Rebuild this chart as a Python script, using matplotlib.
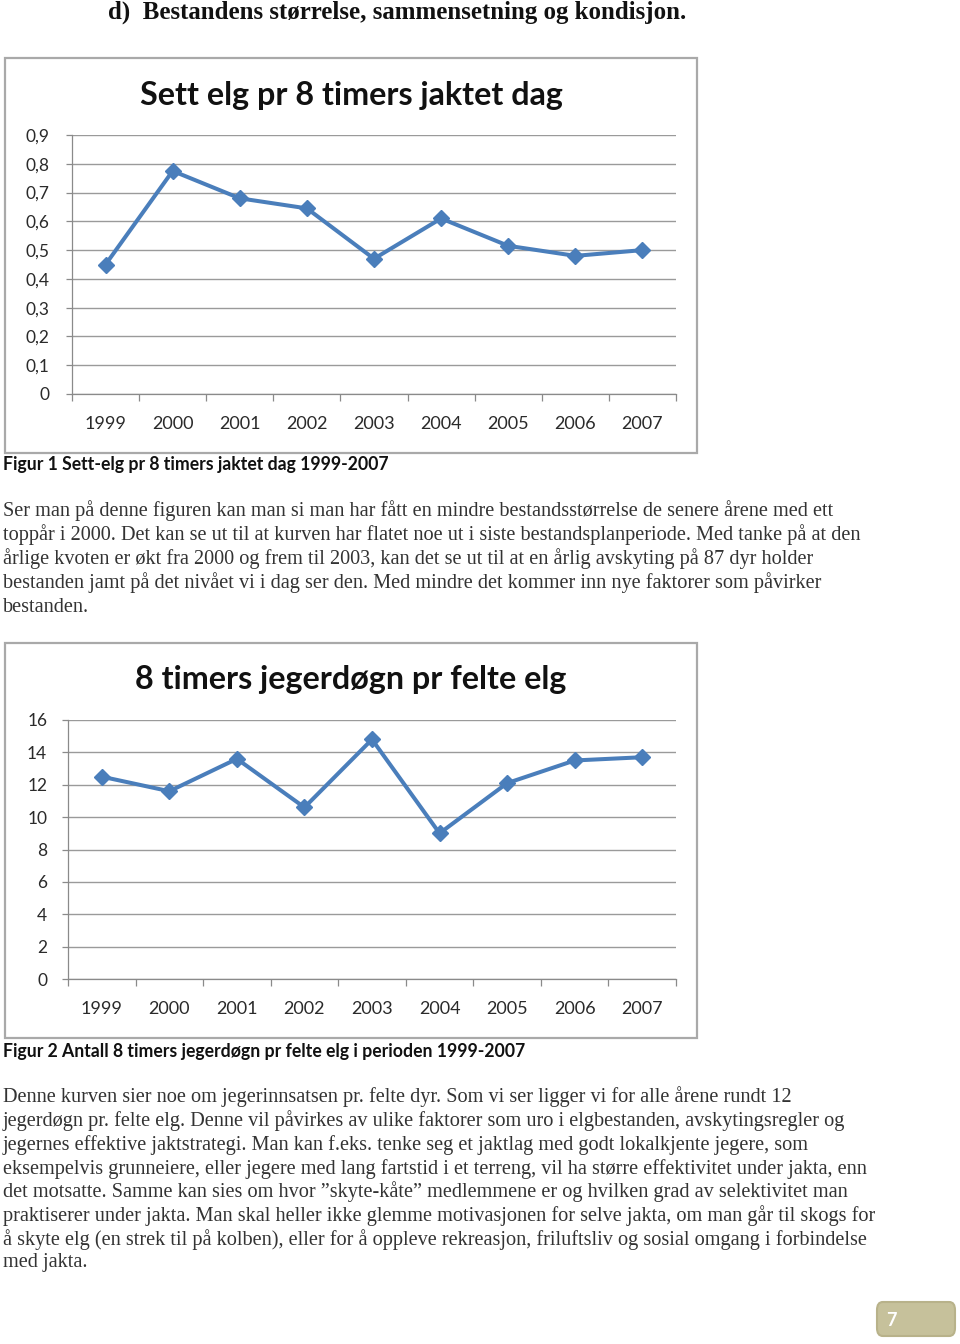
import matplotlib
matplotlib.use("Agg")
import matplotlib.pyplot as plt
from matplotlib.patches import Rectangle, FancyBboxPatch

W, H = 960, 1344

years = ["1999", "2000", "2001", "2002", "2003", "2004", "2005", "2006", "2007"]
sett_elg = [0.45, 0.775, 0.68, 0.645, 0.47, 0.61, 0.515, 0.48, 0.50]
sett_ticks = [0.0, 0.1, 0.2, 0.3, 0.4, 0.5, 0.6, 0.7, 0.8, 0.9]
sett_ticklabels = ["0", "0,1", "0,2", "0,3", "0,4", "0,5", "0,6", "0,7", "0,8", "0,9"]
jegerdogn = [12.5, 11.6, 13.6, 10.6, 14.8, 9.0, 12.1, 13.5, 13.7]
jeger_ticks = [0, 2, 4, 6, 8, 10, 12, 14, 16]
jeger_ticklabels = ["0", "2", "4", "6", "8", "10", "12", "14", "16"]

title1 = "Sett elg pr 8 timers jaktet dag"
title2 = "8 timers jegerdøgn pr felte elg"
caption1 = "Figur 1 Sett-elg pr 8 timers jaktet dag 1999-2007"
caption2 = "Figur 2 Antall 8 timers jegerdøgn pr felte elg i perioden 1999-2007"
heading = "d)  Bestandens størrelse, sammensetning og kondisjon."
para1 = [
    "Ser man på denne figuren kan man si man har fått en mindre bestandsstørrelse de senere årene med ett",
    "toppår i 2000. Det kan se ut til at kurven har flatet noe ut i siste bestandsplanperiode. Med tanke på at den",
    "årlige kvoten er økt fra 2000 og frem til 2003, kan det se ut til at en årlig avskyting på 87 dyr holder",
    "bestanden jamt på det nivået vi i dag ser den. Med mindre det kommer inn nye faktorer som påvirker",
    "bestanden.",
]
para2 = [
    "Denne kurven sier noe om jegerinnsatsen pr. felte dyr. Som vi ser ligger vi for alle årene rundt 12",
    "jegerdøgn pr. felte elg. Denne vil påvirkes av ulike faktorer som uro i elgbestanden, avskytingsregler og",
    "jegernes effektive jaktstrategi. Man kan f.eks. tenke seg et jaktlag med godt lokalkjente jegere, som",
    "eksempelvis grunneiere, eller jegere med lang fartstid i et terreng, vil ha større effektivitet under jakta, enn",
    "det motsatte. Samme kan sies om hvor \u201dskyte-kåte\u201d medlemmene er og hvilken grad av selektivitet man",
    "praktiserer under jakta. Man skal heller ikke glemme motivasjonen for selve jakta, om man går til skogs for",
    "å skyte elg (en strek til på kolben), eller for å oppleve rekreasjon, friluftsliv og sosial omgang i forbindelse",
    "med jakta.",
]
page_no = "7"

fig = plt.figure(figsize=(W / 100, H / 100), dpi=100)
fig.patch.set_facecolor("white")

SANS = ["Lato", "DejaVu Sans"]
SERIF = ["Liberation Serif", "DejaVu Serif"]
BLUE = "#4a7ebb"


def fx(x):
    return x / W


def fy(y):
    return 1 - y / H


def frame(x0, y0, x1, y1):
    fig.add_artist(Rectangle((fx(x0), fy(y1)), (x1 - x0) / W, (y1 - y0) / H,
                             transform=fig.transFigure, fill=False,
                             edgecolor="#a9a9a9", lw=1.6))


def chart(box, plot, values, ticks, ticklabels, title, title_y, ypad):
    frame(*box)
    x0, y0, x1, y1 = plot
    ax = fig.add_axes([fx(x0), fy(y1), (x1 - x0) / W, (y1 - y0) / H])
    n = len(years)
    xs = list(range(n))
    ax.plot(xs, values, color=BLUE, lw=2.9, marker="D", markersize=8,
            markerfacecolor=BLUE, markeredgecolor=BLUE, zorder=3)
    ax.set_xlim(-0.5, n - 0.5)
    ax.set_ylim(ticks[0], ticks[-1])
    ax.set_yticks(ticks)
    ax.set_yticklabels(ticklabels, fontsize=12.5, family=SANS, color="#2a2a2a")
    ax.set_xticks(xs)
    ax.set_xticklabels(years, fontsize=13, family=SANS, color="#2a2a2a")
    ax.set_xticks([i - 0.5 for i in range(n + 1)], minor=True)
    ax.tick_params(axis="x", which="major", length=0, pad=16)
    ax.tick_params(axis="x", which="minor", length=5, width=0.9, color="#8a8a8a", direction="out")
    ax.tick_params(axis="y", length=4, width=0.9, color="#8a8a8a", pad=ypad)
    ax.grid(axis="y", color="#9a9a9a", lw=1.0)
    ax.set_axisbelow(True)
    for s in ["top", "right"]:
        ax.spines[s].set_visible(False)
    for s in ["left", "bottom"]:
        ax.spines[s].set_color("#8a8a8a")
        ax.spines[s].set_linewidth(0.9)
    fig.text(fx((box[0] + box[2]) / 2), fy(title_y), title, ha="center", va="center",
             fontsize=23.2, fontweight="bold", family=SANS, color="#111111")
    return ax


chart((5, 58, 697, 453), (72, 135, 676, 394), sett_elg, sett_ticks, sett_ticklabels, title1, 95, 12)
chart((5, 643, 697, 1038), (68, 720, 676, 979), jegerdogn, jeger_ticks, jeger_ticklabels, title2, 680, 11)

fig.text(fx(108), fy(12), heading, ha="left", va="center", fontsize=17.9, fontweight="bold",
         family=SERIF, color="#111111")
fig.text(fx(3), fy(465), caption1, ha="left", va="center", fontsize=12.7, fontweight="bold",
         family=SANS, color="#111111")
fig.text(fx(3), fy(1051), caption2, ha="left", va="center", fontsize=12.7, fontweight="bold",
         family=SANS, color="#111111")

for i, line in enumerate(para1):
    fig.text(fx(3), fy(511 + 24 * i), line, ha="left", va="center", fontsize=14.6,
             family=SERIF, color="#333333")
ys2 = [1097, 1121, 1145, 1169, 1192, 1216, 1240, 1263]
for line, y in zip(para2, ys2):
    fig.text(fx(3), fy(y), line, ha="left", va="center", fontsize=14.6,
             family=SERIF, color="#333333")

fig.add_artist(FancyBboxPatch((fx(877), fy(1336)), 78 / W, 34 / H,
                              boxstyle="round,pad=0,rounding_size=0.006",
                              transform=fig.transFigure, facecolor="#c6c19b",
                              edgecolor="#b8b28a", lw=1.5))
fig.text(fx(891), fy(1320), page_no, ha="center", va="center", fontsize=13,
         fontweight="bold", family=SANS, color="white")

fig.savefig("out.png", dpi=100)
